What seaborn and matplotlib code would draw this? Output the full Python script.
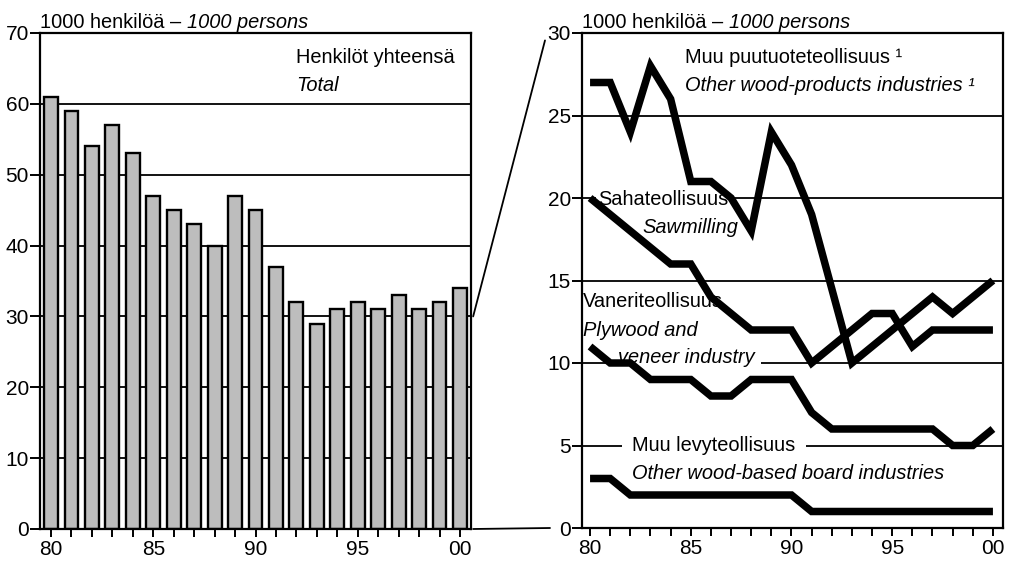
import matplotlib
matplotlib.use("Agg")
import matplotlib.pyplot as plt
import seaborn as sns
import pandas as pd
from matplotlib.patches import ConnectionPatch

# ---------------- data ----------------
years = list(range(1980, 2001))
tick_years = [1980, 1985, 1990, 1995, 2000]
tick_labels = ["80", "85", "90", "95", "00"]

total = [61, 59, 54, 57, 53, 47, 45, 43, 40, 47, 45, 37, 32, 29, 31, 32, 31, 33, 31, 32, 34]

other_wood_products = [27, 27, 24, 28, 26, 21, 21, 20, 18, 24, 22, 19, 14.5, 10, 11, 12, 13, 14, 13, 14, 15]
sawmilling = [20, 19, 18, 17, 16, 16, 14, 13, 12, 12, 12, 10, 11, 12, 13, 13, 11, 12, 12, 12, 12]
plywood = [11, 10, 10, 9, 9, 9, 8, 8, 9, 9, 9, 7, 6, 6, 6, 6, 6, 6, 5, 5, 6]
other_board = [3, 3, 2, 2, 2, 2, 2, 2, 2, 2, 2, 1, 1, 1, 1, 1, 1, 1, 1, 1, 1]

# ---------------- style ----------------
sns.set_theme(style="white")
plt.rcParams['font.family'] = ['Liberation Sans', 'DejaVu Sans']
plt.rcParams['axes.edgecolor'] = 'black'
plt.rcParams['axes.linewidth'] = 1.6
plt.rcParams['text.color'] = 'black'
plt.rcParams['xtick.color'] = 'black'
plt.rcParams['ytick.color'] = 'black'
plt.rcParams['xtick.labelcolor'] = 'black'
plt.rcParams['ytick.labelcolor'] = 'black'
FS = 14.4
TFS = 15

W, H = 1011, 564
fig = plt.figure(figsize=(W / 100, H / 100), dpi=100)
fig.patch.set_facecolor('white')

def rect(x0, y0, x1, y1):
    return [x0 / W, 1 - y1 / H, (x1 - x0) / W, (y1 - y0) / H]

axL = fig.add_axes(rect(40, 33, 471, 529))
axR = fig.add_axes(rect(582, 33, 1003, 528))

# ---------------- left: bars ----------------
dfL = pd.DataFrame({"year": [str(y) for y in years], "total": total})
sns.barplot(data=dfL, x="year", y="total", ax=axL, color="#bdbdbd",
            saturation=1, width=0.68, edgecolor="black", linewidth=1.7, zorder=2)
axL.set_ylim(0, 70)
axL.set_xlim(-0.54, 20.54)
axL.set_yticks(range(0, 71, 10))
for v in range(10, 70, 10):
    axL.axhline(v, color="black", lw=1.3, zorder=1)
axL.set_xticks(range(len(years)))
axL.set_xticklabels([tick_labels[tick_years.index(y)] if y in tick_years else "" for y in years])
axL.set_xlabel("")
axL.set_ylabel("")
axL.text(11.98, 66.5, "Henkilöt yhteensä", fontsize=FS, va="center", ha="left")
axL.text(11.98, 62.6, "Total", fontsize=FS, va="center", ha="left", style="italic")

# ---------------- right: lines ----------------
dfR = pd.DataFrame({
    "year": years * 4,
    "value": other_wood_products + sawmilling + plywood + other_board,
    "series": (["other_wood_products"] * 21 + ["sawmilling"] * 21 +
               ["plywood"] * 21 + ["other_board"] * 21),
})
sns.lineplot(data=dfR, x="year", y="value", units="series", estimator=None,
             color="black", lw=5.4, ax=axR, zorder=4, legend=False)
for line in axR.get_lines():
    line.set_solid_joinstyle("miter")
    line.set_solid_capstyle("butt")
axR.set_ylim(0, 30)
axR.set_xlim(1979.6, 2000.5)
axR.set_yticks(range(0, 31, 5))
for v in range(5, 30, 5):
    axR.axhline(v, color="black", lw=1.3, zorder=1)
axR.set_xticks(years)
axR.set_xticklabels([tick_labels[tick_years.index(y)] if y in tick_years else "" for y in years])
axR.set_xlabel("")
axR.set_ylabel("")

white = dict(facecolor="white", edgecolor="none", boxstyle="square,pad=0.12")
axR.text(1984.7, 28.5, "Muu puutuoteteollisuus ¹", fontsize=FS, va="center", ha="left")
axR.text(1984.7, 26.8, "Other wood-products industries ¹", fontsize=FS, va="center",
         ha="left", style="italic")
axR.text(1980.4, 19.9, "Sahateollisuus", fontsize=FS, va="center", ha="left",
         bbox=white, zorder=2)
axR.text(1982.6, 18.2, "Sawmilling", fontsize=FS, va="center", ha="left", style="italic")
axR.text(1979.65, 13.7, "Vaneriteollisuus", fontsize=FS, va="center", ha="left",
         bbox=white, zorder=2)
axR.text(1979.65, 12.0, "Plywood and", fontsize=FS, va="center", ha="left", style="italic")
axR.text(1981.4, 10.35, "veneer industry", fontsize=FS, va="center", ha="left",
         style="italic", bbox=dict(facecolor="white", edgecolor="none",
                                   boxstyle="square,pad=0.3"), zorder=2)
axR.text(1982.1, 4.97, "Muu levyteollisuus", fontsize=FS, va="center", ha="left",
         bbox=dict(facecolor="white", edgecolor="none", boxstyle="square,pad=0.5"), zorder=2)
axR.text(1982.1, 3.3, "Other wood-based board industries", fontsize=FS, va="center",
         ha="left", style="italic", zorder=3)

# ---------------- ticks / spines ----------------
for ax in (axL, axR):
    for s in ax.spines.values():
        s.set_visible(True)
        s.set_color("black")
        s.set_linewidth(1.6)
    ax.tick_params(axis="both", which="both", direction="out", length=6, width=1.4,
                   color="black", labelcolor="black", labelsize=TFS, pad=2,
                   bottom=True, left=True)
    ax.tick_params(axis="y", length=7, pad=1)
    ax.set_facecolor("white")

# ---------------- titles ----------------
fig.canvas.draw()
renderer = fig.canvas.get_renderer()
for ax in (axL, axR):
    t1 = ax.text(0.0, 1.003, "1000 henkilöä – ", transform=ax.transAxes, fontsize=FS,
                 ha="left", va="bottom")
    bb = t1.get_window_extent(renderer=renderer)
    x_end = ax.transAxes.inverted().transform((bb.x1, bb.y0))[0]
    ax.text(x_end, 1.003, "1000 persons", transform=ax.transAxes, fontsize=FS,
            ha="left", va="bottom", style="italic")

# ---------------- zoom connectors ----------------
xr_top = (545 - 582) / 421
xr_bot = (550 - 582) / 421
con1 = ConnectionPatch(xyA=(1.005, 30 / 70), coordsA=axL.transAxes,
                       xyB=(xr_top, 0.985), coordsB=axR.transAxes,
                       color="black", lw=1.3)
con2 = ConnectionPatch(xyA=(1.005, 0.0), coordsA=axL.transAxes,
                       xyB=(xr_bot, 0.0), coordsB=axR.transAxes,
                       color="black", lw=1.3)
fig.add_artist(con1)
fig.add_artist(con2)

fig.savefig("out.png", dpi=100, facecolor="white")
